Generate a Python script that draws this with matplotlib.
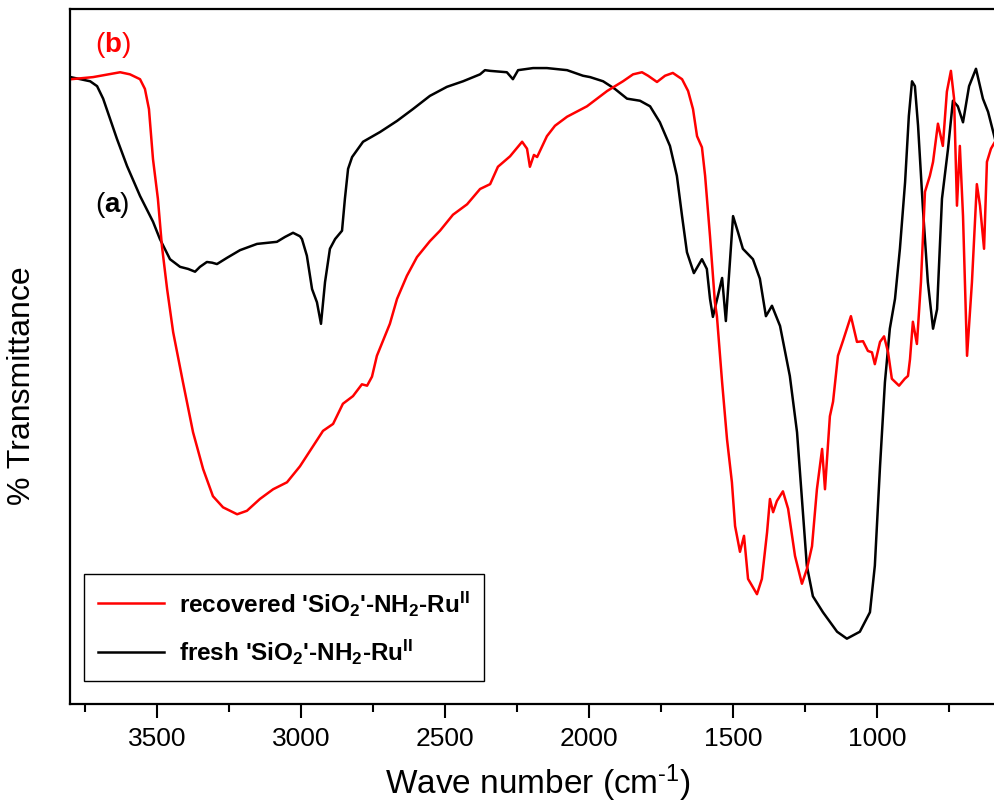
import matplotlib
matplotlib.use('Agg')
import matplotlib.pyplot as plt

plt.rcParams['font.family'] = ['Liberation Sans', 'DejaVu Sans']
plt.rcParams['mathtext.fontset'] = 'custom'
plt.rcParams['mathtext.rm'] = 'Liberation Sans'
plt.rcParams['mathtext.bf'] = 'Liberation Sans:bold'
plt.rcParams['mathtext.it'] = 'Liberation Sans:italic'

# fresh 'SiO2'-NH2-RuII  (a)
fresh_wn = [3800, 3732, 3708, 3687, 3639, 3604, 3559, 3514, 3490, 3455, 3420, 3392,
            3368, 3351, 3327, 3309, 3292, 3257, 3212, 3153, 3084, 3056, 3028, 3004,
            2997, 2980, 2962, 2945, 2931, 2917, 2900, 2882, 2858, 2848, 2837, 2823,
            2785, 2726, 2667, 2612, 2553, 2494, 2438, 2379, 2362, 2344, 2286, 2265,
            2247, 2195, 2147, 2077, 2022, 1997, 1952, 1911, 1869, 1824, 1789, 1755,
            1720, 1696, 1678, 1661, 1637, 1609, 1592, 1581, 1571, 1539, 1526, 1501,
            1484, 1467, 1432, 1408, 1387, 1366, 1338, 1304, 1279, 1262, 1245, 1224,
            1189, 1140, 1106, 1061, 1026, 1009, 991, 974, 957, 939, 922, 904, 891,
            880, 870, 859, 842, 825, 807, 793, 776, 755, 738, 721, 703, 682, 658,
            634, 616, 592]
fresh_t = [90.2, 89.6, 88.9, 87.1, 81.3, 77.4, 73.1, 69.4, 66.9, 64.0, 62.9, 62.6,
           62.2, 62.9, 63.6, 63.5, 63.3, 64.2, 65.3, 66.2, 66.5, 67.2, 67.8, 67.3,
           66.9, 64.5, 59.7, 57.8, 54.7, 60.7, 65.5, 66.9, 68.1, 72.7, 77.0, 78.7,
           80.9, 82.3, 83.9, 85.6, 87.5, 88.8, 89.6, 90.6, 91.2, 91.1, 90.9, 89.9,
           91.2, 91.5, 91.5, 91.2, 90.4, 90.2, 89.6, 88.5, 87.1, 86.8, 86.0, 83.7,
           80.3, 76.0, 70.2, 65.0, 62.0, 64.0, 62.6, 58.3, 55.7, 61.3, 55.1, 70.2,
           67.9, 65.5, 64.0, 61.2, 55.8, 57.3, 54.4, 47.2, 39.1, 29.5, 19.9, 15.5,
           13.2, 10.4, 9.4, 10.4, 13.2, 19.9, 34.2, 46.3, 54.0, 58.3, 65.5, 75.1, 84.6,
           89.6, 88.9, 83.2, 71.2, 60.7, 54.0, 56.8, 72.7, 79.9, 86.8, 86.0, 83.7, 88.9, 91.4,
           87.1, 85.2, 81.3]

# recovered 'SiO2'-NH2-RuII  (b)
rec_wn = [3798, 3722, 3628, 3594, 3559, 3542, 3528, 3514, 3497, 3483, 3465, 3444,
          3410, 3375, 3340, 3306, 3271, 3222, 3188, 3143, 3097, 3049, 3004, 2924,
          2889, 2855, 2820, 2789, 2771, 2754, 2737, 2692, 2667, 2633, 2598, 2553,
          2518, 2473, 2424, 2379, 2344, 2317, 2275, 2233, 2216, 2206, 2192, 2181,
          2147, 2119, 2077, 2008, 1938, 1883, 1848, 1817, 1796, 1765, 1737, 1710,
          1678, 1657, 1640, 1626, 1609, 1598, 1581, 1564, 1557, 1539, 1522, 1505,
          1494, 1477, 1463, 1449, 1418, 1401, 1383, 1373, 1362, 1349, 1328, 1310,
          1286, 1262, 1245, 1227, 1210, 1192, 1182, 1165, 1154, 1137, 1120, 1092,
          1071, 1050, 1033, 1019, 1009, 991, 977, 963, 950, 925, 905, 894, 887,
          877, 863, 849, 835, 818, 807, 790, 773, 759, 745, 734, 724, 714, 703,
          689, 672, 655, 644, 630, 620, 606, 592]
rec_t = [89.9, 90.2, 90.9, 90.6, 89.9, 88.5, 85.6, 78.4, 72.7, 65.9, 59.7, 53.5,
         46.3, 39.1, 33.8, 29.9, 28.3, 27.3, 27.8, 29.5, 30.9, 31.9, 34.2, 39.3,
         40.3, 43.2, 44.3, 46.0, 45.8, 47.1, 50.1, 54.7, 58.3, 61.6, 64.3, 66.6,
         68.1, 70.4, 71.9, 74.1, 74.8, 77.3, 78.8, 80.9, 79.9, 77.3, 79.0, 78.7,
         81.7, 83.2, 84.5, 86.0, 88.2, 89.6, 90.6, 90.9, 90.4, 89.5, 90.4, 90.8,
         89.9, 88.2, 85.6, 81.7, 80.1, 76.0, 67.3, 57.8, 55.8, 46.3, 38.1, 31.9,
         25.6, 21.9, 24.2, 18.0, 15.8, 18.0, 24.7, 29.5, 27.6, 29.2, 30.6, 28.1,
         21.3, 17.3, 19.4, 22.7, 30.9, 36.7, 30.9, 41.4, 43.5, 50.1, 52.2, 55.8,
         52.1, 52.2, 50.8, 50.6, 48.9, 52.1, 52.9, 50.6, 46.8, 45.8, 46.8, 47.2, 49.6,
         55.0, 51.8, 60.7, 73.7, 76.0, 78.0, 83.5, 80.3, 88.1, 91.1, 87.1, 71.7, 80.3, 70.2,
         50.1, 60.7, 74.8, 71.7, 65.5, 78.0, 79.9, 80.9]

fig = plt.figure(figsize=(9.95, 8.04), dpi=100)
ax = fig.add_axes([70 / 995, 99 / 804, 925 / 995, 695 / 804])

l_fresh, = ax.plot(fresh_wn, fresh_t, color='black', lw=1.8)
l_rec, = ax.plot(rec_wn, rec_t, color='red', lw=1.8)

ax.set_xlim(3802, 592)
ax.set_ylim(0, 100)

ax.set_xticks([3500, 3000, 2500, 2000, 1500, 1000])
ax.set_xticks([3750, 3250, 2750, 2250, 1750, 1250, 750], minor=True)
ax.set_yticks([])
ax.tick_params(axis='x', which='major', direction='out', length=10, width=1.5,
               labelsize=19, pad=6)
ax.tick_params(axis='x', which='minor', direction='out', length=5.5, width=1.5)

for side in ['left', 'bottom', 'top']:
    ax.spines[side].set_linewidth(1.6)
ax.spines['right'].set_visible(False)

ax.set_xlabel(r'Wave number (cm$^{\text{-}1}$)', fontsize=24)
ax.xaxis.set_label_coords(0.506, -0.083)
ax.set_ylabel('% Transmittance', fontsize=23)
ax.yaxis.set_label_coords(-0.036, 0.46)

ax.text(0.046, 0.95, r'($\mathbf{b}$)', color='red', fontsize=20,
        transform=ax.transAxes, ha='center', va='center')
ax.text(0.046, 0.72, r'($\mathbf{a}$)', color='black', fontsize=20,
        transform=ax.transAxes, ha='center', va='center')

leg = ax.legend([l_rec, l_fresh],
                [r"recovered 'SiO$_\mathbf{2}$'-NH$_\mathbf{2}$-Ru$^\mathbf{II}$",
                 r"fresh 'SiO$_\mathbf{2}$'-NH$_\mathbf{2}$-Ru$^\mathbf{II}$"],
                loc='lower left', bbox_to_anchor=(0.015, 0.033), borderaxespad=0,
                prop={'weight': 'bold', 'size': 17.5}, fancybox=False,
                edgecolor='black', framealpha=1, handlelength=2.7,
                handletextpad=0.6, labelspacing=0.8, borderpad=0.6)
leg.get_frame().set_linewidth(1.0)

fig.savefig('out.png', dpi=100)
